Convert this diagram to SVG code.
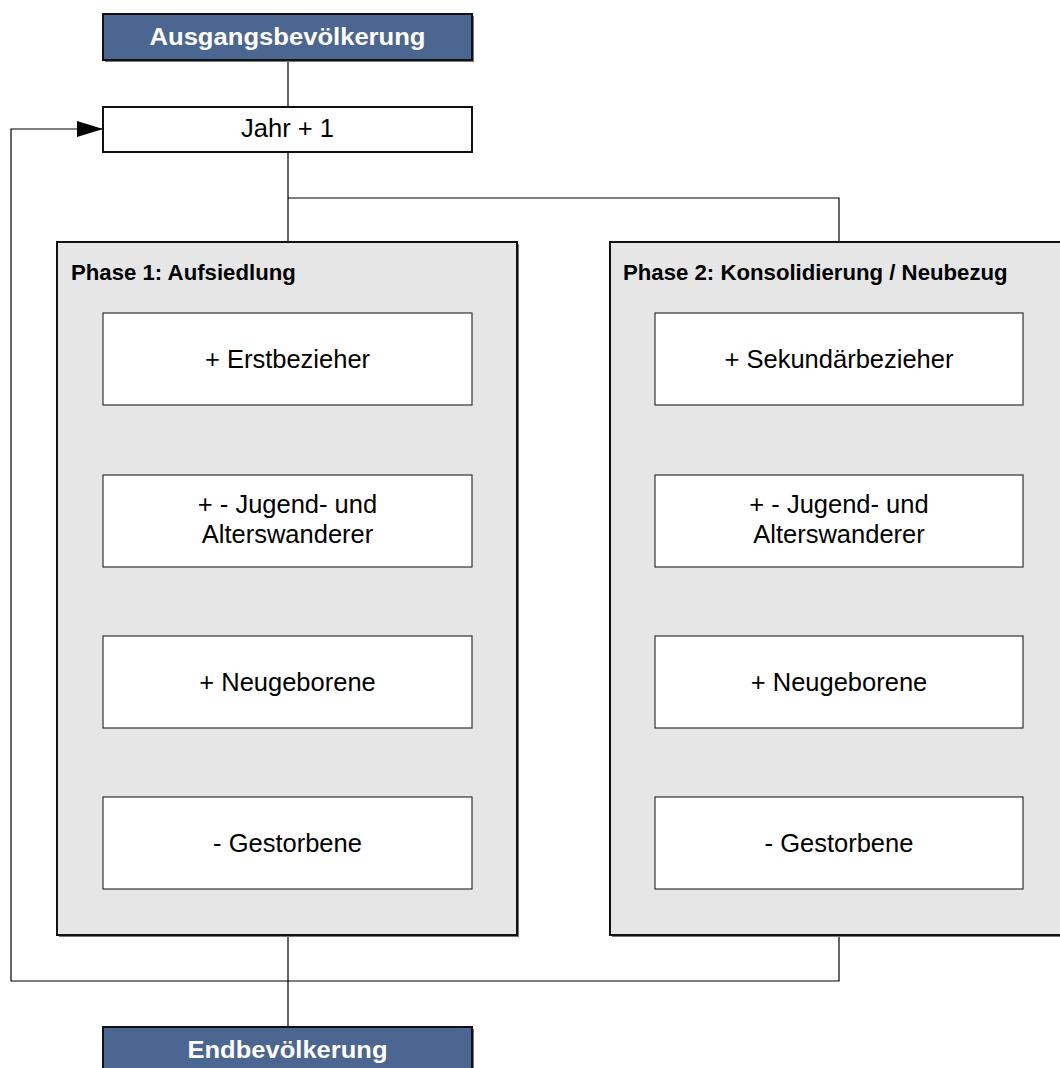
<svg xmlns="http://www.w3.org/2000/svg" width="1060" height="1068" viewBox="0 0 1060 1068">
<style>
.hd{fill:#4b6690;stroke:#111;stroke-width:2}
.sh{fill:#777}
.hdt{font-family:"Liberation Sans",Arial,sans-serif;font-weight:bold;font-size:23px;fill:#fff;text-anchor:middle}
.wb{fill:#fff;stroke:#111;stroke-width:2}
.ph{fill:#e6e6e6;stroke:#111;stroke-width:2}
.pht{font-family:"Liberation Sans",Arial,sans-serif;font-weight:bold;font-size:22.2px;fill:#000}
.ib{fill:#fff;stroke:#333;stroke-width:1.2}
.t{font-family:"Liberation Sans",Arial,sans-serif;font-size:25.5px;fill:#000;text-anchor:middle}
.c{fill:none;stroke:#000;stroke-width:1.2}
</style>
<defs>
<marker id="arr" viewBox="0 0 26 16" refX="26" refY="8" markerWidth="26" markerHeight="16" markerUnits="userSpaceOnUse" orient="auto">
<path d="M0,0 L26,8 L0,16 Z" fill="#000"/>
</marker>
</defs>

<g id="connectors">
<path class="c" d="M288,60 V107"/>
<path class="c" d="M288,152 V242"/>
<path class="c" d="M288,198 H839 V242"/>
<path class="c" d="M288,405 V475 M288,567 V636 M288,728 V797"/>
<path class="c" d="M839,405 V475 M839,567 V636 M839,728 V797"/>
<path class="c" d="M288,935 V1027"/>
<path class="c" d="M839,935 V981 H11 V129 H103" marker-end="url(#arr)"/>
</g>

<g id="ausgangsbevoelkerung">
<rect class="sh" x="105" y="16" width="369" height="46"/>
<rect class="hd" x="103" y="14" width="369" height="46"/>
<text class="hdt" x="287.5" y="45" textLength="276" lengthAdjust="spacingAndGlyphs">Ausgangsbevölkerung</text>
</g>

<g id="jahr">
<rect class="wb" x="103" y="107" width="369" height="45"/>
<text class="t" x="287.5" y="137">Jahr + 1</text>
</g>

<g id="phase1">
<rect class="sh" x="59" y="244" width="460" height="693"/>
<rect class="ph" x="57" y="242" width="460" height="693"/>
<text class="pht" x="71" y="280">Phase 1: Aufsiedlung</text>
</g>

<g id="phase2">
<rect class="sh" x="612" y="244" width="460" height="693"/>
<rect class="ph" x="610" y="242" width="460" height="693"/>
<text class="pht" x="623" y="280">Phase 2: Konsolidierung / Neubezug</text>
</g>

<g id="p1-erstbezieher">
<rect class="ib" x="103" y="313" width="369" height="92"/>
<text class="t" x="287.5" y="368">+ Erstbezieher</text>
</g>
<g id="p1-wanderer">
<rect class="ib" x="103" y="475" width="369" height="92"/>
<text class="t" x="287.5" y="513">+ - Jugend- und</text>
<text class="t" x="287.5" y="543">Alterswanderer</text>
</g>
<g id="p1-neugeborene">
<rect class="ib" x="103" y="636" width="369" height="92"/>
<text class="t" x="287.5" y="691">+ Neugeborene</text>
</g>
<g id="p1-gestorbene">
<rect class="ib" x="103" y="797" width="369" height="92"/>
<text class="t" x="287.5" y="852">- Gestorbene</text>
</g>

<g id="p2-sekundaerbezieher">
<rect class="ib" x="655" y="313" width="368" height="92"/>
<text class="t" x="839" y="368">+ Sekundärbezieher</text>
</g>
<g id="p2-wanderer">
<rect class="ib" x="655" y="475" width="368" height="92"/>
<text class="t" x="839" y="513">+ - Jugend- und</text>
<text class="t" x="839" y="543">Alterswanderer</text>
</g>
<g id="p2-neugeborene">
<rect class="ib" x="655" y="636" width="368" height="92"/>
<text class="t" x="839" y="691">+ Neugeborene</text>
</g>
<g id="p2-gestorbene">
<rect class="ib" x="655" y="797" width="368" height="92"/>
<text class="t" x="839" y="852">- Gestorbene</text>
</g>

<g id="endbevoelkerung">
<rect class="sh" x="105" y="1029" width="369" height="46"/>
<rect class="hd" x="103" y="1027" width="369" height="46"/>
<text class="hdt" x="287.5" y="1058" textLength="200" lengthAdjust="spacingAndGlyphs">Endbevölkerung</text>
</g>
</svg>
